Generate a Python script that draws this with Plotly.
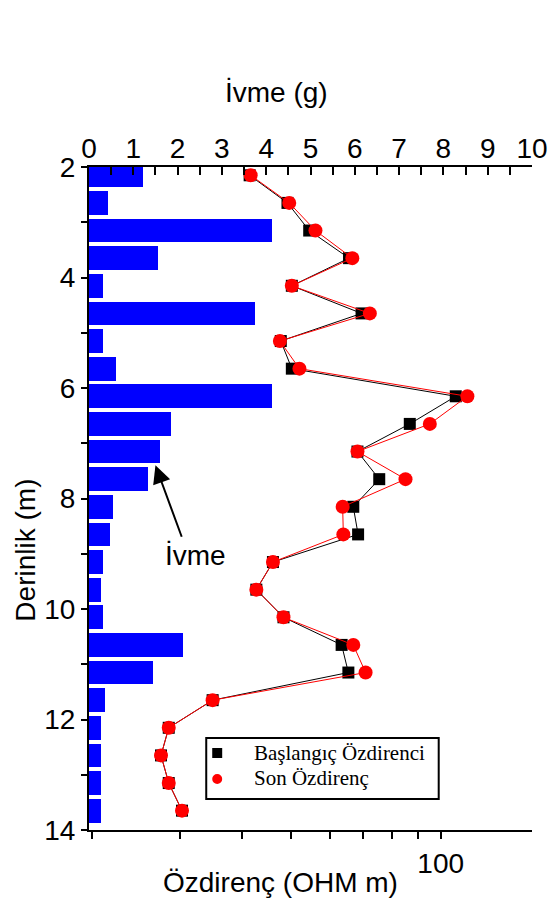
import plotly.graph_objects as go

# Depth of each measurement (m)
depth = [2.15, 2.65, 3.15, 3.65, 4.15, 4.65, 5.15, 5.65, 6.15, 6.65, 7.15, 7.65,
         8.15, 8.65, 9.15, 9.65, 10.15, 10.65, 11.15, 11.65, 12.15, 12.65, 13.15, 13.65]

# Peak acceleration (g)
ivme = [1.21, 0.43, 4.14, 1.56, 0.32, 3.75, 0.32, 0.60, 4.14, 1.84, 1.61, 1.33,
        0.54, 0.48, 0.32, 0.26, 0.32, 2.12, 1.45, 0.37, 0.26, 0.26, 0.26, 0.26]

# Resistivity before and after shaking (ohm m)
baslangic = [41.4, 49.3, 54.5, 65.5, 50.3, 69.4, 47.8, 50.3, 107.2, 86.7, 68.1, 75.3,
             66.8, 68.3, 46.1, 42.7, 48.4, 63.3, 65.3, 34.9, 28.5, 27.5, 28.5, 30.3]
son = [41.6, 49.7, 56.1, 66.5, 50.3, 72.1, 47.6, 52.1, 113.1, 95.1, 68.1, 85.0,
       63.6, 63.8, 46.1, 42.7, 48.4, 66.8, 70.7, 34.9, 28.5, 27.5, 28.5, 30.3]

ivme_ticks = list(range(0, 11))
ohm_ticks = [20, 30, 40, 50, 60, 70, 80, 90, 100]
ohm_labels = ["", "", "", "", "", "", "", "", "100"]
depth_ticks = list(range(2, 15))
depth_labels = [str(d) if d % 2 == 0 else "" for d in depth_ticks]

legend_names = ["Başlangıç Özdirenci", "Son Özdirenç"]

FONT = "Liberation Sans"
W, H = 553, 904
L, R, T, B = 88.5, 20.5, 167, 74
PW, PH = W - L - R, H - T - B


def px(x):
    return (x - L) / PW


def py(y):
    return (H - B - y) / PH


fig = go.Figure()

fig.add_trace(go.Bar(
    x=ivme, y=depth, orientation="h", width=0.43,
    marker=dict(color="#0000FF", line=dict(width=0)),
    xaxis="x", yaxis="y", showlegend=False,
))

fig.add_trace(go.Scatter(
    x=baslangic, y=depth, mode="lines", line=dict(color="black", width=1),
    xaxis="x2", yaxis="y", showlegend=False,
))
fig.add_trace(go.Scatter(
    x=baslangic, y=depth, mode="markers",
    marker=dict(symbol="square", color="black", size=12),
    xaxis="x2", yaxis="y", showlegend=False,
))
fig.add_trace(go.Scatter(
    x=son, y=depth, mode="lines", line=dict(color="#FF0000", width=1),
    xaxis="x2", yaxis="y", showlegend=False,
))
fig.add_trace(go.Scatter(
    x=son, y=depth, mode="markers",
    marker=dict(symbol="circle", color="#FF0000", size=14),
    xaxis="x2", yaxis="y", showlegend=False,
))

tickfont = dict(family=FONT, size=28, color="black")

fig.update_layout(
    template="none",
    width=W, height=H,
    margin=dict(l=L, r=R, t=T, b=B, pad=0),
    paper_bgcolor="white", plot_bgcolor="white",
    showlegend=False,
    bargap=0,
    xaxis=dict(
        side="top", range=[0, 10], tickmode="array", tickvals=ivme_ticks,
        ticks="inside", ticklen=8, tickwidth=2, tickcolor="black",
        minor=dict(dtick=0.5, ticks="inside", ticklen=8, tickwidth=2, tickcolor="black",
                   showgrid=False),
        showline=True, linewidth=2, linecolor="black", automargin=False,
        showgrid=False, zeroline=False, tickfont=tickfont, anchor="y",
        ticklabelstandoff=-4,
    ),
    xaxis2=dict(
        type="log", side="bottom", overlaying="x", anchor="y",
        range=[1.295, 2.183], tickmode="array", tickvals=ohm_ticks, ticktext=ohm_labels,
        ticks="outside", ticklen=7, tickwidth=2, tickcolor="black",
        showline=True, linewidth=2, linecolor="black", automargin=False,
        showgrid=False, zeroline=False, tickfont=tickfont,
    ),
    yaxis=dict(
        range=[14, 2], tickmode="array", tickvals=depth_ticks, ticktext=depth_labels,
        ticks="outside", ticklen=6, tickwidth=2, tickcolor="black",
        showline=True, linewidth=2, linecolor="black", automargin=False,
        showgrid=False, zeroline=False, tickfont=tickfont,
    ),
    yaxis2=dict(
        overlaying="y", side="right", anchor="x", range=[14, 2],
        tickmode="array", tickvals=depth_ticks, showticklabels=False,
        ticks="inside", ticklen=6, tickwidth=2, tickcolor="black",
        showline=True, linewidth=2, linecolor="black", automargin=False,
        showgrid=False, zeroline=False,
    ),
)

# axis titles
fig.add_annotation(text="İvme (g)", x=px(276), y=py(93), xref="paper", yref="paper",
                   showarrow=False, font=dict(family=FONT, size=28, color="black"),
                   xanchor="center", yanchor="middle")
fig.add_annotation(text="Derinlik (m)", x=px(24), y=py(550), xref="paper", yref="paper",
                   showarrow=False, textangle=-90,
                   font=dict(family=FONT, size=28, color="black"),
                   xanchor="center", yanchor="middle")
fig.add_annotation(text="Özdirenç (OHM m)", x=px(280), y=py(882), xref="paper", yref="paper",
                   showarrow=False, font=dict(family=FONT, size=28, color="black"),
                   xanchor="center", yanchor="middle")

# pointer to the acceleration bars
fig.add_annotation(x=1.50, y=7.40, ax=2.105, ay=8.72, xref="x", yref="y",
                   axref="x", ayref="y", text="", showarrow=True,
                   arrowhead=2, arrowsize=1.8, arrowwidth=2, arrowcolor="black")
fig.add_annotation(text="İvme", x=2.40, y=9.03, xref="x", yref="y", showarrow=False,
                   font=dict(family=FONT, size=28, color="black"),
                   xanchor="center", yanchor="middle")

# legend box
fig.add_shape(type="rect", xref="paper", yref="paper",
              x0=px(206), x1=px(439), y0=py(799), y1=py(738),
              line=dict(color="black", width=2), fillcolor="white", layer="above")
fig.add_shape(type="rect", xref="paper", yref="paper",
              x0=px(212), x1=px(222), y0=py(758), y1=py(748),
              line=dict(width=0), fillcolor="black", layer="above")
fig.add_shape(type="circle", xref="paper", yref="paper",
              x0=px(212), x1=px(222), y0=py(784), y1=py(774),
              line=dict(width=0), fillcolor="#FF0000", layer="above")
for name, yc in zip(legend_names, [753, 778]):
    fig.add_annotation(text=name, x=px(252), y=py(yc), xref="paper", yref="paper",
                       showarrow=False, xanchor="left", yanchor="middle",
                       font=dict(family="Liberation Serif", size=21, color="black"))

fig.write_html("out.html")
